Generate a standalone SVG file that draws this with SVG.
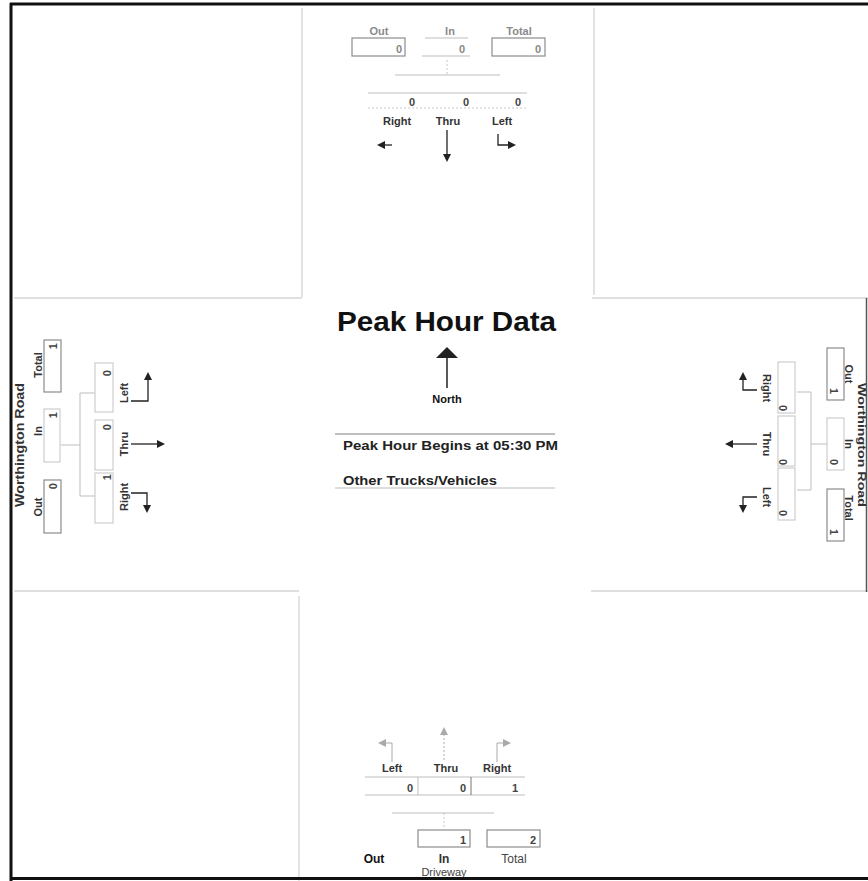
<svg xmlns="http://www.w3.org/2000/svg" width="868" height="881" viewBox="0 0 868 881">
<defs>
<style>
text{font-family:"Liberation Sans",Arial,sans-serif}
.lab{font-size:11px;font-weight:bold;fill:#333}
.glab{font-size:11px;fill:#8a8a8a;font-weight:bold}
.val{font-size:11px;font-weight:bold;fill:#444}
.gval{font-size:11px;font-weight:bold;fill:#888}
.box{fill:none;stroke:#8c8c8c;stroke-width:1.2}
.lbox{fill:none;stroke:#c4c4c4;stroke-width:1}
.grid{stroke:#d4d4d4;stroke-width:1.3;fill:none}
.thin{stroke:#bdbdbd;stroke-width:1;fill:none}
.dash{stroke:#c8c8c8;stroke-width:1;stroke-dasharray:2 2;fill:none}
.arr{stroke:#222;stroke-width:1.3;fill:none;marker-end:url(#ah)}
.garr{stroke:#aaa;stroke-width:1;fill:none;marker-end:url(#gah)}
.frame{stroke:#111;stroke-width:3;fill:none}
</style>
<marker id="ah" viewBox="0 0 8 8" refX="0" refY="4" markerWidth="8" markerHeight="8" markerUnits="userSpaceOnUse" orient="auto"><path d="M0,0 L8,4 L0,8 z" fill="#222"/></marker>
<marker id="gah" viewBox="0 0 8 8" refX="0" refY="4" markerWidth="8" markerHeight="8" markerUnits="userSpaceOnUse" orient="auto"><path d="M0,0 L8,4 L0,8 z" fill="#aaa"/></marker>
</defs>
<rect width="868" height="881" fill="#fff"/>

<g id="grid">
<line class="grid" x1="14" y1="298" x2="302" y2="298"/>
<line class="grid" x1="592" y1="298" x2="868" y2="298"/>
<line class="grid" x1="14" y1="591" x2="299" y2="591"/>
<line class="grid" x1="591" y1="591" x2="868" y2="591"/>
<line class="grid" x1="302" y1="8" x2="302" y2="297"/>
<line class="grid" x1="594" y1="8" x2="594" y2="295"/>
<line class="grid" x1="299" y1="596" x2="299" y2="881"/>
<line x1="866.5" y1="298" x2="866.5" y2="592" stroke="#555" stroke-width="1.5"/>
</g>

<g id="north">
<text class="glab" x="379" y="35" text-anchor="middle">Out</text>
<text class="glab" x="450" y="35" text-anchor="middle">In</text>
<text class="glab" x="519" y="35" text-anchor="middle">Total</text>
<rect class="box" x="352" y="38" width="53" height="18"/>
<path class="thin" d="M425,38 H468 M422,56 H470"/>
<rect class="box" x="492" y="38" width="53" height="18"/>
<text class="gval" x="402" y="53" text-anchor="end">0</text>
<text class="gval" x="465" y="53" text-anchor="end">0</text>
<text class="gval" x="541" y="53" text-anchor="end">0</text>
<line class="thin" x1="395" y1="75" x2="500" y2="75"/>
<line class="dash" x1="447" y1="60" x2="447" y2="75"/>
<line class="thin" x1="368" y1="93" x2="527" y2="93"/>
<line class="dash" x1="368" y1="108" x2="527" y2="108"/>
<text class="val" x="415" y="106" text-anchor="end">0</text>
<text class="val" x="469" y="106" text-anchor="end">0</text>
<text class="val" x="521" y="106" text-anchor="end">0</text>
<text class="lab" x="397" y="125" text-anchor="middle">Right</text>
<text class="lab" x="448" y="125" text-anchor="middle">Thru</text>
<text class="lab" x="502" y="125" text-anchor="middle">Left</text>
</g>

<g id="center">
<text x="446.5" y="331" text-anchor="middle" font-size="27" font-weight="bold" fill="#111" textLength="219" lengthAdjust="spacingAndGlyphs">Peak Hour Data</text>
<polygon points="447,347 436,358 458,358" fill="#222"/>
<line x1="447" y1="358" x2="447" y2="388" stroke="#222" stroke-width="1.5"/>
<text x="447" y="403" text-anchor="middle" font-size="11" font-weight="bold" fill="#111">North</text>
<line x1="335" y1="434" x2="555" y2="434" stroke="#a8a8a8" stroke-width="1.5"/>
<text x="343" y="450" font-size="12.5" font-weight="bold" fill="#222" textLength="215" lengthAdjust="spacingAndGlyphs">Peak Hour Begins at 05:30 PM</text>
<text x="343" y="485" font-size="12.5" font-weight="bold" fill="#222" textLength="154" lengthAdjust="spacingAndGlyphs">Other Trucks/Vehicles</text>
<line x1="335" y1="488" x2="555" y2="488" stroke="#bbb" stroke-width="1.2"/>
</g>

<g id="west">
<text transform="translate(24,445) rotate(-90)" text-anchor="middle" font-size="12.5" font-weight="bold" fill="#333" textLength="124" lengthAdjust="spacingAndGlyphs">Worthington Road</text>
<text class="lab" transform="translate(42,365) rotate(-90)" text-anchor="middle" fill="#555">Total</text>
<text class="lab" transform="translate(42,431) rotate(-90)" text-anchor="middle" fill="#555">In</text>
<text class="lab" transform="translate(42,507) rotate(-90)" text-anchor="middle" fill="#555">Out</text>
<rect class="box" x="44" y="340" width="17" height="52"/>
<rect class="lbox" x="44" y="409" width="16" height="53"/>
<rect class="box" x="44" y="480" width="17" height="53"/>
<text class="val" transform="translate(57,343) rotate(-90)" text-anchor="end">1</text>
<text class="val" transform="translate(57,412) rotate(-90)" text-anchor="end">1</text>
<text class="val" transform="translate(57,483) rotate(-90)" text-anchor="end">0</text>
<path class="thin" d="M61,445 H80 M95,393 H80 V496 H95"/>
<rect class="lbox" x="95" y="363" width="18" height="49"/>
<rect class="lbox" x="95" y="420" width="18" height="50"/>
<rect class="lbox" x="95" y="473" width="18" height="50"/>
<text class="val" transform="translate(111,370) rotate(-90)" text-anchor="end">0</text>
<text class="val" transform="translate(111,424) rotate(-90)" text-anchor="end">0</text>
<text class="val" transform="translate(111,474) rotate(-90)" text-anchor="end">1</text>
<text class="lab" transform="translate(128,393) rotate(-90)" text-anchor="middle">Left</text>
<text class="lab" transform="translate(128,444) rotate(-90)" text-anchor="middle">Thru</text>
<text class="lab" transform="translate(128,497) rotate(-90)" text-anchor="middle">Right</text>
</g>

<g id="east">
<text transform="translate(857.5,445) rotate(90)" text-anchor="middle" font-size="11" font-weight="bold" fill="#333" textLength="124" lengthAdjust="spacingAndGlyphs">Worthington Road</text>
<text class="lab" transform="translate(844.5,374) rotate(90)" text-anchor="middle" fill="#555">Out</text>
<text class="lab" transform="translate(844.5,444) rotate(90)" text-anchor="middle" fill="#555">In</text>
<text class="lab" transform="translate(844.5,508) rotate(90)" text-anchor="middle" fill="#555">Total</text>
<rect class="box" x="827" y="348" width="17" height="52"/>
<rect class="lbox" x="827" y="418" width="17" height="52"/>
<rect class="box" x="827" y="489" width="17" height="52"/>
<text class="val" transform="translate(830,394) rotate(90)" text-anchor="end">1</text>
<text class="val" transform="translate(830,465) rotate(90)" text-anchor="end">0</text>
<text class="val" transform="translate(830,535) rotate(90)" text-anchor="end">1</text>
<path class="thin" d="M827,444 H811 M797,392 H811 V490 H797"/>
<rect class="lbox" x="778" y="362" width="17" height="51"/>
<rect class="lbox" x="778" y="416" width="17" height="50"/>
<rect class="lbox" x="778" y="468" width="17" height="52"/>
<text class="val" transform="translate(779,411) rotate(90)" text-anchor="end">0</text>
<text class="val" transform="translate(779,465) rotate(90)" text-anchor="end">0</text>
<text class="val" transform="translate(779,516) rotate(90)" text-anchor="end">0</text>
<text class="lab" transform="translate(763,388) rotate(90)" text-anchor="middle">Right</text>
<text class="lab" transform="translate(763,444) rotate(90)" text-anchor="middle">Thru</text>
<text class="lab" transform="translate(763,497) rotate(90)" text-anchor="middle">Left</text>
</g>

<g id="south">
<text class="lab" x="392" y="772" text-anchor="middle">Left</text>
<text class="lab" x="446" y="772" text-anchor="middle">Thru</text>
<text class="lab" x="497" y="772" text-anchor="middle">Right</text>
<line class="thin" x1="365" y1="777" x2="525" y2="777"/>
<line class="thin" x1="365" y1="795" x2="525" y2="795"/>
<line class="thin" x1="418" y1="777" x2="418" y2="795"/>
<line class="box" x1="471" y1="777" x2="471" y2="795"/>
<text class="val" x="413" y="792" text-anchor="end">0</text>
<text class="val" x="466" y="792" text-anchor="end">0</text>
<text class="val" x="518" y="792" text-anchor="end">1</text>
<line class="thin" x1="392" y1="813" x2="494" y2="813"/>
<line class="dash" x1="444" y1="813" x2="444" y2="829"/>
<rect class="box" x="418" y="830" width="52" height="17"/>
<rect class="box" x="487" y="830" width="53" height="17"/>
<text class="val" x="466" y="844" text-anchor="end">1</text>
<text class="val" x="536" y="844" text-anchor="end" font-size="12">2</text>
<text x="374" y="863" text-anchor="middle" font-size="12" font-weight="bold" fill="#111">Out</text>
<text x="444" y="863" text-anchor="middle" font-size="12" fill="#333" font-weight="bold">In</text>
<text x="514" y="863" text-anchor="middle" font-size="12" fill="#444">Total</text>
<text x="444" y="876" text-anchor="middle" font-size="11" fill="#444">Driveway</text>
</g>

<g id="connectors">
<path class="arr" d="M392,145 H385"/>
<path class="arr" d="M447,130 V154"/>
<path class="arr" d="M498,134 V145 H508"/>
<path class="arr" d="M131,401 H148 V380"/>
<path class="arr" d="M131,444 H157"/>
<path class="arr" d="M131,493 H147 V505"/>
<path class="arr" d="M757,390 H743 V380"/>
<path class="arr" d="M757,444 H733"/>
<path class="arr" d="M757,497 H743 V505"/>
<path class="garr" d="M392,762 V743 H386"/>
<path class="garr" d="M444,760 V735" stroke-dasharray="2 2"/>
<path class="garr" d="M497,762 V743 H503"/>
</g>

<g id="border">
<line class="frame" x1="10" y1="4" x2="868" y2="4"/>
<line class="frame" x1="11" y1="3" x2="11" y2="881"/>
<line class="frame" x1="10" y1="878.5" x2="868" y2="878.5"/>
</g>
</svg>
